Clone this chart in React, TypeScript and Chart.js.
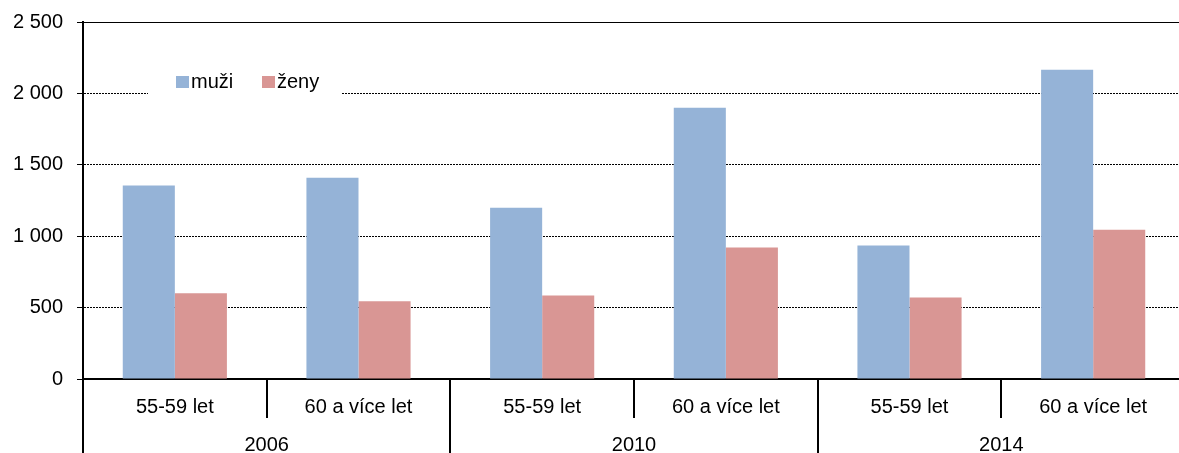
import React, { useEffect, useRef } from "react";
import { Chart, registerables } from "chart.js";

Chart.register(...registerables);

const subCategories = ["55-59 let", "60 a více let", "55-59 let", "60 a více let", "55-59 let", "60 a více let"];
const years = ["2006", "2010", "2014"];
const muzi = [1355, 1410, 1200, 1900, 935, 2165];
const zeny = [600, 545, 585, 920, 570, 1045];
const seriesNames = ["muži", "ženy"];
const seriesColors = ["#95B3D7", "#D99694"];
const yTicks = [0, 500, 1000, 1500, 2000, 2500];

const FONT = "'Liberation Sans', Arial, sans-serif";

const fmt = (v: number) => {
  const s = String(Math.round(v));
  return s.replace(/\B(?=(\d{3})+(?!\d))/g, " ");
};

const decorPlugin = {
  id: "decor",
  beforeDatasetsDraw(chart: any) {
    const { ctx, chartArea } = chart;
    ctx.save();
    ctx.strokeStyle = "#000";
    ctx.lineWidth = 1;
    ctx.beginPath();
    ctx.moveTo(chartArea.left, chartArea.top + 0.5);
    ctx.lineTo(chartArea.right, chartArea.top + 0.5);
    ctx.stroke();
    ctx.restore();
  },
  afterDraw(chart: any) {
    const { ctx, chartArea, scales } = chart;
    const x = scales.x;
    const bottom = chartArea.bottom;
    const H = chart.height;
    ctx.save();
    ctx.strokeStyle = "#000";
    ctx.lineWidth = 2;
    ctx.beginPath();
    ctx.moveTo(chartArea.left, bottom);
    ctx.lineTo(chartArea.left, H);
    ctx.stroke();
    for (let i = 0; i < subCategories.length - 1; i++) {
      const xp = Math.round((x.getPixelForValue(i) + x.getPixelForValue(i + 1)) / 2);
      const isYear = i % 2 === 1;
      ctx.beginPath();
      ctx.moveTo(xp, bottom);
      ctx.lineTo(xp, isYear ? H : bottom + 39);
      ctx.stroke();
    }
    ctx.fillStyle = "#000";
    ctx.font = `20px ${FONT}`;
    ctx.textAlign = "center";
    ctx.textBaseline = "middle";
    subCategories.forEach((lab, i) => {
      ctx.fillText(lab, x.getPixelForValue(i), bottom + 28);
    });
    years.forEach((yr, j) => {
      const c = (x.getPixelForValue(j * 2) + x.getPixelForValue(j * 2 + 1)) / 2;
      ctx.fillText(yr, c, bottom + 66);
    });
    // legend
    const lx = chartArea.left + 65;
    const ly = chartArea.top + 60;
    ctx.fillStyle = "#fff";
    ctx.fillRect(lx, ly - 16, 194, 34);
    ctx.font = `20px ${FONT}`;
    ctx.textAlign = "left";
    const items = [
      { sx: chartArea.left + 93, tx: chartArea.left + 108 },
      { sx: chartArea.left + 179, tx: chartArea.left + 194 },
    ];
    items.forEach((it, k) => {
      ctx.fillStyle = seriesColors[k];
      ctx.fillRect(it.sx, ly - 6, 13, 12);
      ctx.fillStyle = "#000";
      ctx.fillText(seriesNames[k], it.tx, ly);
    });
    ctx.restore();
  },
};

export default function App() {
  const ref = useRef<HTMLCanvasElement>(null);
  useEffect(() => {
    if (!ref.current) return;
    const chart = new Chart(ref.current, {
      type: "bar",
      data: {
        labels: subCategories,
        datasets: [
          { label: seriesNames[0], data: muzi, backgroundColor: seriesColors[0], barPercentage: 1, categoryPercentage: 0.567 },
          { label: seriesNames[1], data: zeny, backgroundColor: seriesColors[1], barPercentage: 1, categoryPercentage: 0.567 },
        ],
      },
      options: {
        animation: false,
        responsive: false,
        maintainAspectRatio: false,
        layout: { padding: { top: 22, right: 0, bottom: 0, left: 0 } },
        plugins: { legend: { display: false }, tooltip: { enabled: false } },
        scales: {
          x: {
            grid: { display: false },
            border: { display: true, color: "#000", width: 2 },
            ticks: { display: false },
            afterFit: (s: any) => { s.height = 74; },
          },
          y: {
            min: 0,
            max: 2500,
            afterBuildTicks: (s: any) => { s.ticks = yTicks.map((v) => ({ value: v })); },
            ticks: {
              color: "#000",
              font: { family: FONT, size: 20 },
              padding: 14,
              callback: (v: any) => fmt(Number(v)),
            },
            grid: { color: "#000", lineWidth: 1, tickLength: 6, tickColor: "#000", tickWidth: 1 },
            border: { display: true, color: "#000", width: 2, dash: [2, 1] },
            afterFit: (s: any) => { s.width = 83; s.paddingTop = 0; s.paddingBottom = 0; },
          },
        },
      },
      plugins: [decorPlugin],
    });
    return () => chart.destroy();
  }, []);
  return (
    <div style={{ position: "fixed", left: 0, top: 0, width: 1179, height: 453, overflow: "hidden", background: "#fff" }}>
      <canvas ref={ref} width={1185} height={453} style={{ display: "block" }} />
    </div>
  );
}
